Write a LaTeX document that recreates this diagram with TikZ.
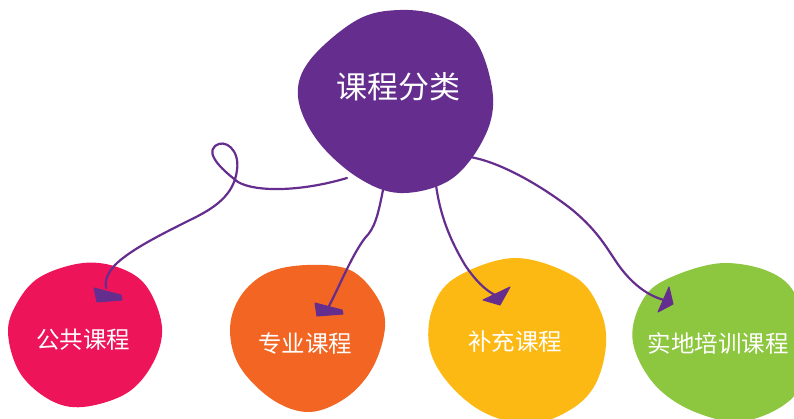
\documentclass[tikz,border=0pt]{standalone}
\usepackage{fontspec}
\newfontfamily\cjk{Noto Sans CJK SC}
\definecolor{cpurple}{RGB}{101,45,142}
\definecolor{cpink}{RGB}{237,20,90}
\definecolor{corange}{RGB}{242,101,34}
\definecolor{cyellow}{RGB}{253,185,19}
\definecolor{cgreen}{RGB}{141,198,63}
\tikzset{
  blob/.style={draw=none},
  lbl/.style={text=white,font=\cjk\fontsize{23.5}{26}\selectfont,inner sep=0pt},
  conn/.style={draw=cpurple,line width=2.2pt,line cap=round,line join=round},
  headfill/.style={fill=cpurple,draw=cpurple,line width=1pt,line join=round},
}
\begin{document}
\begin{tikzpicture}[x=1pt,y=-1pt]
\useasboundingbox (0,0) rectangle (794,419);
\clip (0,0) rectangle (794,419);
% blobs
\fill[cpurple] plot[smooth cycle,tension=0.6] coordinates {(400,10) (443,17) (477,43) (493,97) (483,140) (450,180) (400,193) (357,177) (317,140) (298,97) (310,60) (357,20)};
\fill[cpink] plot[smooth cycle,tension=0.6] coordinates {(83,263) (120,268) (147,287) (162,327) (153,363) (127,393) (83,407) (50,400) (20,373) (8,333) (17,303) (40,277)};
\fill[corange] plot[smooth cycle,tension=0.6] coordinates {(307,265) (350,270) (377,297) (385,327) (373,367) (347,397) (310,412) (273,400) (240,367) (230,330) (240,297) (267,273)};
\fill[cyellow] plot[smooth cycle,tension=0.6] coordinates {(515,258) (575,277) (600,310) (606,345) (595,385) (570,410) (530,424) (485,413) (450,385) (430,350) (432,310) (455,278)};
\fill[cgreen] plot[smooth cycle,tension=0.6] coordinates {(727,263) (787,283) (808,343) (795,395) (745,421) (695,412) (655,385) (633,343) (640,305) (665,280)};
% labels
\node[lbl,font=\cjk\fontsize{31}{34}\selectfont] (root) at (398,87) {课程分类};
\node[lbl] (a) at (83,340) {公共课程};
\node[lbl] (b) at (305,344) {专业课程};
\node[lbl] (c) at (515,342) {补充课程};
\node[lbl] (d) at (718,343) {实地培训课程};
% connector coordinates
\coordinate (s1) at (347,178);
\coordinate (e1) at (106,288);
\coordinate (s2) at (383,190);
\coordinate (e2) at (329,306);
\coordinate (s3) at (436,185);
\coordinate (e3) at (495,295);
\coordinate (s4) at (470,157);
\coordinate (e4) at (664,300);
% connector 1 with loop
\draw[conn] (s1) .. controls (300,192) and (255,192) .. (238,182)
  .. controls (225,172) and (205,155) .. (215,146)
  .. controls (225,138) and (240,150) .. (237,170)
  .. controls (234,195) and (215,208) .. (190,220)
  .. controls (160,235) and (130,250) .. (115,265)
  .. controls (106,275) and (105,282) .. (e1);
\draw[headfill] (94,288) -- (121,295) -- (122,300) -- (97,302) -- cycle;
% connector 2
\draw[conn] (s2) .. controls (378,215) and (375,228) .. (365,238)
  .. controls (352,255) and (340,285) .. (e2);
\draw[headfill] (315,303) -- (342,310) -- (343,314) -- (317,316) -- cycle;
% connector 3
\draw[conn] (s3) .. controls (440,215) and (450,240) .. (465,265)
  .. controls (475,280) and (485,290) .. (e3);
\draw[headfill] (483,300) -- (510,287) -- (500,305) -- cycle;
% connector 4
\draw[conn] (s4) .. controls (500,162) and (540,185) .. (570,208)
  .. controls (595,228) and (605,245) .. (615,260)
  .. controls (628,280) and (645,295) .. (e4);
\draw[headfill] (669,287) -- (673,304) -- (658,312) -- cycle;
\end{tikzpicture}
\end{document}
